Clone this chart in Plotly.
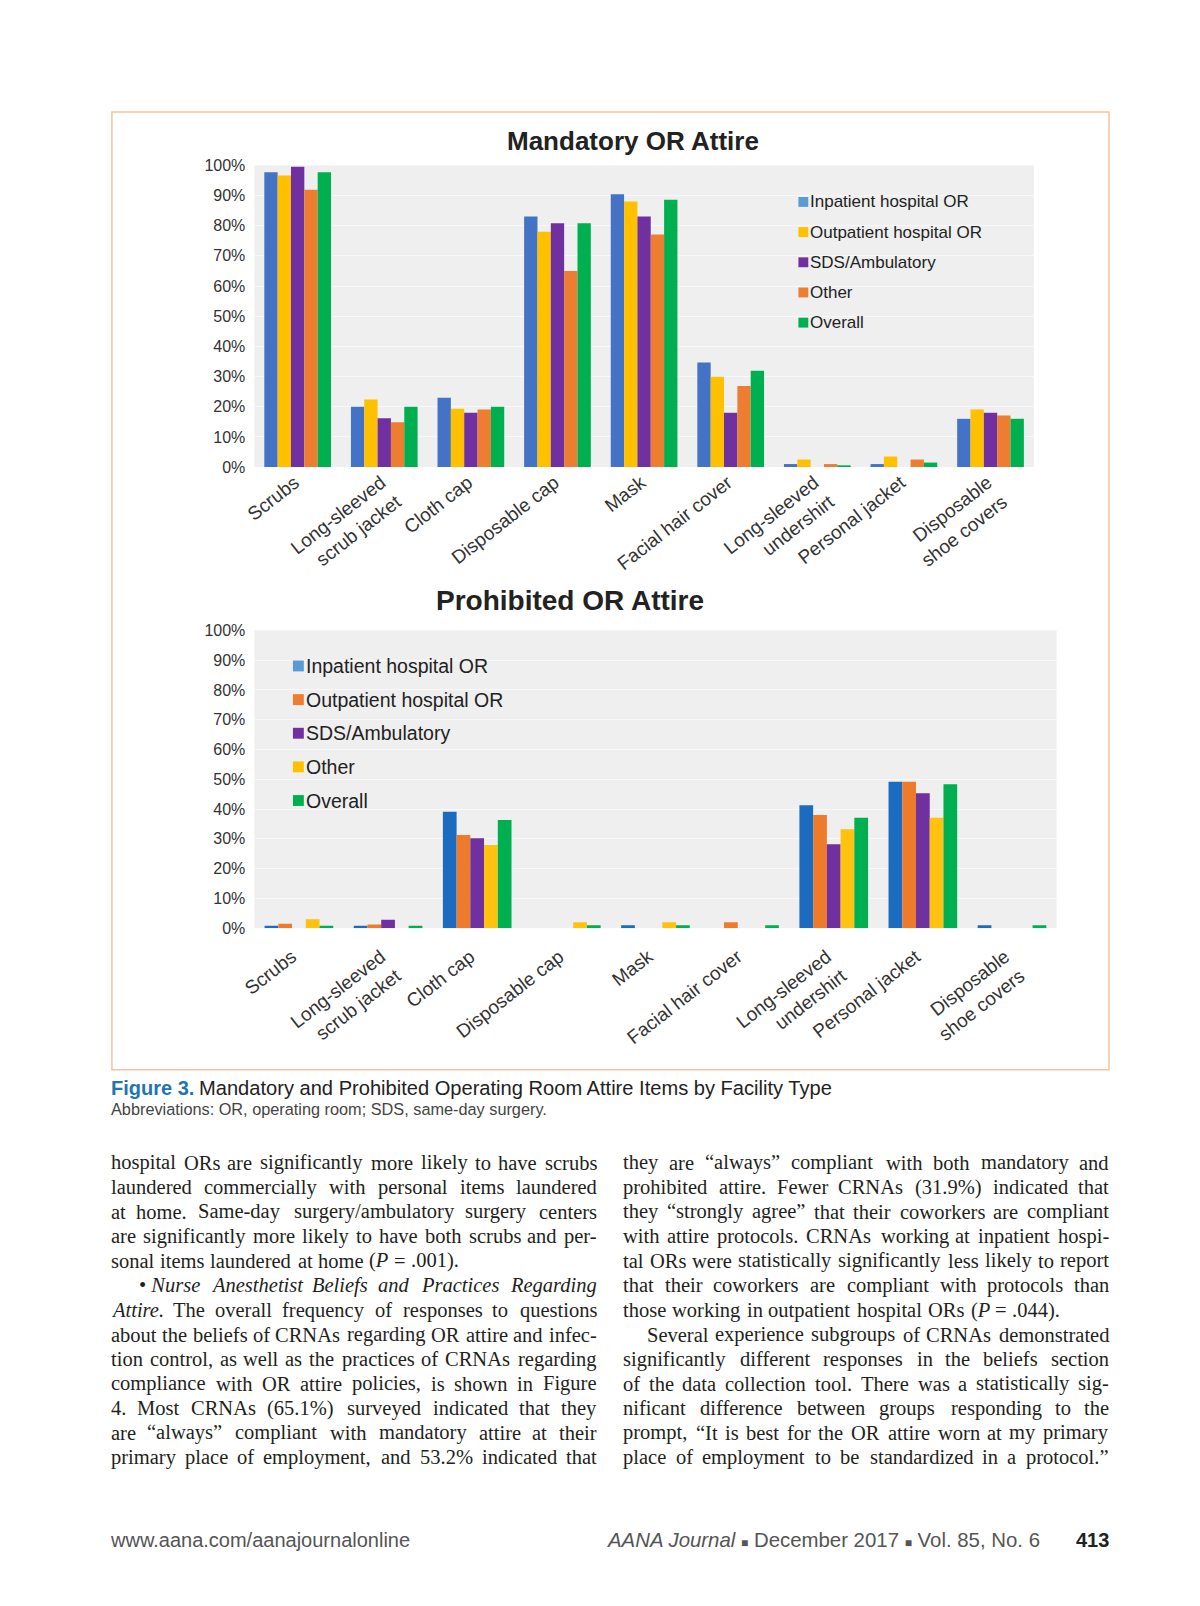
import re
import plotly.graph_objects as go

W_PX, H_PX = 1200, 1606

# ---------------- data ----------------
categories = ["Scrubs", "Long-sleeved<br>scrub jacket", "Cloth cap", "Disposable cap", "Mask",
              "Facial hair cover", "Long-sleeved<br>undershirt", "Personal jacket",
              "Disposable<br>shoe covers"]
series_names = ["Inpatient hospital OR", "Outpatient hospital OR", "SDS/Ambulatory", "Other", "Overall"]

mand_inpatient = [97.7, 20.0, 23.0, 83.0, 90.4, 34.7, 1.0, 1.0, 16.0]
mand_outpatient = [96.6, 22.4, 19.3, 78.0, 88.0, 29.9, 2.5, 3.5, 19.1]
mand_sds = [99.5, 16.2, 18.0, 80.8, 83.0, 18.0, 0.0, 0.0, 18.0]
mand_other = [91.9, 14.9, 19.1, 65.0, 77.1, 26.9, 1.0, 2.5, 17.1]
mand_overall = [97.7, 20.0, 20.0, 80.8, 88.6, 31.9, 0.5, 1.5, 16.0]

proh_inpatient = [0.8, 0.8, 39.1, 0.0, 1.0, 0.0, 41.3, 49.2, 1.0]
proh_outpatient = [1.5, 1.2, 31.3, 0.0, 0.0, 2.0, 38.0, 49.2, 0.0]
proh_sds = [0.0, 2.8, 30.2, 0.0, 0.0, 0.0, 28.2, 45.3, 0.0]
proh_other = [3.0, 0.0, 27.9, 2.0, 2.0, 0.0, 33.2, 37.1, 0.0]
proh_overall = [0.8, 0.8, 36.3, 1.0, 1.0, 1.0, 37.1, 48.3, 1.0]

y_tick_values = [0, 10, 20, 30, 40, 50, 60, 70, 80, 90, 100]
y_tick_labels = ["0%", "10%", "20%", "30%", "40%", "50%", "60%", "70%", "80%", "90%", "100%"]

mand_colors = ["#4472c4", "#ffc000", "#7030a0", "#ed7d31", "#00b050"]
proh_colors = ["#1b6bc0", "#ee7a2c", "#7030a0", "#ffc20e", "#00b050"]
legend_colors_m = ["#5b9bd5", "#ffc000", "#7030a0", "#ed7d31", "#00b050"]
legend_colors_p = ["#5b9bd5", "#ed7d31", "#7030a0", "#ffc000", "#00b050"]

title_mand = "Mandatory OR Attire"
title_proh = "Prohibited OR Attire"

caption_fig = "Figure 3."
caption_text = "Mandatory and Prohibited Operating Room Attire Items by Facility Type"
caption_abbr = "Abbreviations: OR, operating room; SDS, same-day surgery."

col1_lines = [
    ("hospital ORs are significantly more likely to have scrubs", True, 0),
    ("laundered commercially with personal items laundered", True, 0),
    ("at home. Same-day surgery/ambulatory surgery centers", True, 0),
    ("are significantly more likely to have both scrubs and per-", True, 0),
    ("sonal items laundered at home (<i>P</i> = .001).", False, 0),
    ("•\u00a0<i>Nurse</i> <i>Anesthetist</i> <i>Beliefs</i> <i>and</i> <i>Practices</i> <i>Regarding</i>", True, 28),
    ("<i>Attire.</i> The overall frequency of responses to questions", True, 0),
    ("about the beliefs of CRNAs regarding OR attire and infec-", True, 0),
    ("tion control, as well as the practices of CRNAs regarding", True, 0),
    ("compliance with OR attire policies, is shown in Figure", True, 0),
    ("4. Most CRNAs (65.1%) surveyed indicated that they", True, 0),
    ("are “always” compliant with mandatory attire at their", True, 0),
    ("primary place of employment, and 53.2% indicated that", True, 0),
]
col2_lines = [
    ("they are “always” compliant with both mandatory and", True, 0),
    ("prohibited attire. Fewer CRNAs (31.9%) indicated that", True, 0),
    ("they “strongly agree” that their coworkers are compliant", True, 0),
    ("with attire protocols. CRNAs working at inpatient hospi-", True, 0),
    ("tal ORs were statistically significantly less likely to report", True, 0),
    ("that their coworkers are compliant with protocols than", True, 0),
    ("those working in outpatient hospital ORs (<i>P</i> = .044).", False, 0),
    ("Several experience subgroups of CRNAs demonstrated", True, 24),
    ("significantly different responses in the beliefs section", True, 0),
    ("of the data collection tool. There was a statistically sig-", True, 0),
    ("nificant difference between groups responding to the", True, 0),
    ("prompt, “It is best for the OR attire worn at my primary", True, 0),
    ("place of employment to be standardized in a protocol.”", True, 0),
]

footer_left = "www.aana.com/aanajournalonline"
footer_right = ("<i>AANA Journal</i> <span style='font-size:12px'>■</span> December 2017 "
                "<span style='font-size:12px'>■</span> Vol. 85, No. 6")
footer_page = "413"

# ---------------- helpers ----------------
def PX(x):
    return x / W_PX


def PY(y):
    return 1 - y / H_PX


ROMAN = {' ': 250, '\u00a0': 250, '!': 333, '%': 833, '(': 333, ')': 333, ',': 250, '-': 333, '.': 250,
         '/': 278, ':': 278, ';': 278, '=': 564, '?': 444, '“': 444, '”': 444, '•': 350, "'": 333,
         'A': 722, 'B': 667, 'C': 667, 'D': 722, 'E': 611, 'F': 556, 'G': 722, 'H': 722, 'I': 333,
         'J': 389, 'K': 722, 'L': 611, 'M': 889, 'N': 722, 'O': 722, 'P': 556, 'Q': 722, 'R': 667,
         'S': 556, 'T': 611, 'U': 722, 'V': 722, 'W': 944, 'X': 722, 'Y': 722, 'Z': 611,
         'a': 444, 'b': 500, 'c': 444, 'd': 500, 'e': 444, 'f': 333, 'g': 500, 'h': 500, 'i': 278,
         'j': 278, 'k': 500, 'l': 278, 'm': 778, 'n': 500, 'o': 500, 'p': 500, 'q': 500, 'r': 333,
         's': 389, 't': 278, 'u': 500, 'v': 500, 'w': 722, 'x': 500, 'y': 500, 'z': 444}
ITALIC = dict(ROMAN)
ITALIC.update({'A': 611, 'B': 611, 'N': 667, 'P': 611, 'R': 611, 'S': 500, 'T': 556,
               'a': 500, 'f': 278, 'k': 444, 'm': 722, 'r': 389, 'v': 444, 'w': 667, 'y': 444, 'z': 389})
WIDTH_SAFETY = 1.03


def word_width(word, size):
    total = 0
    italic = False
    for tok in re.split(r"(<[^>]+>)", word):
        if tok == "<i>":
            italic = True
        elif tok == "</i>":
            italic = False
        elif tok.startswith("<"):
            continue
        else:
            table = ITALIC if italic else ROMAN
            total += sum(table.get(c, 500) for c in tok)
    return total * size / 1000.0 * WIDTH_SAFETY


# ---------------- figure ----------------
fig = go.Figure()

for name, vals, col in zip(series_names,
                           [mand_inpatient, mand_outpatient, mand_sds, mand_other, mand_overall],
                           mand_colors):
    fig.add_trace(go.Bar(x=categories, y=vals, name=name, marker_color=col, marker_line_width=0,
                         xaxis="x", yaxis="y", showlegend=False, hoverinfo="skip"))

for name, vals, col in zip(series_names,
                           [proh_inpatient, proh_outpatient, proh_sds, proh_other, proh_overall],
                           proh_colors):
    fig.add_trace(go.Bar(x=categories, y=vals, name=name, marker_color=col, marker_line_width=0,
                         xaxis="x2", yaxis="y2", showlegend=False, hoverinfo="skip"))

SANS = "Liberation Sans, Arial, sans-serif"
axis_font = dict(family=SANS, size=16, color="#333333")
cat_font = dict(family=SANS, size=19, color="#333333")

common_x = dict(type="category", showgrid=False, showline=False, zeroline=False, ticks="",
                tickangle=-38, tickfont=cat_font)
common_y = dict(range=[0, 100], tickvals=y_tick_values, ticktext=y_tick_labels, showline=False,
                zeroline=False, ticks="", showgrid=True, gridcolor="#f8f8f8", gridwidth=1,
                tickfont=axis_font, ticklabelstandoff=8)

fig.update_layout(
    width=W_PX, height=H_PX, autosize=False,
    margin=dict(l=0, r=0, t=0, b=0, pad=0),
    paper_bgcolor="white", plot_bgcolor="#efefef",
    barmode="group", bargap=0.23, bargroupgap=0.0,
    showlegend=False,
    xaxis=dict(domain=[PX(244), PX(1032)], anchor="y", ticklabelshift=-3, **common_x),
    yaxis=dict(domain=[PY(464), PY(159)], anchor="x", **common_y),
    xaxis2=dict(domain=[PX(244), PX(1055)], anchor="y2", ticklabelstandoff=13, ticklabelshift=-7,
                **common_x),
    yaxis2=dict(domain=[PY(930), PY(629)], anchor="x2", **common_y),
)

shapes = []
annotations = []

# outer frame
shapes.append(dict(type="rect", xref="paper", yref="paper", x0=PX(100), x1=PX(1108),
                   y0=PY(1073), y1=PY(105), line=dict(color="#f3c3a2", width=1.5), layer="below"))

# titles
annotations.append(dict(text="<b>" + title_mand + "</b>", x=PX(627), y=PY(134), xref="paper", yref="paper",
                        xanchor="center", yanchor="middle", showarrow=False,
                        font=dict(family=SANS, size=26, color="#222222")))
annotations.append(dict(text="<b>" + title_proh + "</b>", x=PX(563), y=PY(599), xref="paper", yref="paper",
                        xanchor="center", yanchor="middle", showarrow=False,
                        font=dict(family=SANS, size=28, color="#222222")))


# legends (drawn from the series names)
def add_legend(x_sq, size, y0, dy, colors, font_size):
    for i, (name, col) in enumerate(zip(series_names, colors)):
        yy = y0 + i * dy
        shapes.append(dict(type="rect", xref="paper", yref="paper", x0=PX(x_sq), x1=PX(x_sq + size),
                           y0=PY(yy + size / 2), y1=PY(yy - size / 2), fillcolor=col, line=dict(width=0)))
        annotations.append(dict(text=name, x=PX(x_sq + size), y=PY(yy), xref="paper", yref="paper",
                                xanchor="left", yanchor="middle", showarrow=False,
                                font=dict(family=SANS, size=font_size, color="#222222")))


add_legend(794, 10, 196, 30.5, legend_colors_m, 17)
add_legend(283, 11, 665, 34, legend_colors_p, 19.5)

# caption
annotations.append(dict(text="<b>" + caption_fig + "</b>", x=PX(97), y=PY(1092), xref="paper", yref="paper",
                        xanchor="left", yanchor="middle", showarrow=False,
                        font=dict(family=SANS, size=20, color="#1f74b4")))
annotations.append(dict(text=caption_text, x=PX(186), y=PY(1092), xref="paper", yref="paper",
                        xanchor="left", yanchor="middle", showarrow=False,
                        font=dict(family=SANS, size=20.1, color="#222222")))
annotations.append(dict(text=caption_abbr, x=PX(97), y=PY(1113), xref="paper", yref="paper",
                        xanchor="left", yanchor="middle", showarrow=False,
                        font=dict(family=SANS, size=16.3, color="#444444")))

# body text (justified columns)
BODY_SIZE = 20.5
LINE_Y0 = 1167
LINE_DY = 24.83
body_font = dict(family="Liberation Serif, Times New Roman, serif", size=BODY_SIZE, color="#231f20")


def add_word(text, x, yy, anchor):
    annotations.append(dict(text=text, x=PX(x), y=PY(yy), xref="paper", yref="paper",
                            xanchor=anchor, yanchor="middle", showarrow=False,
                            borderpad=0, borderwidth=0, font=body_font))


def add_column(lines, left, right):
    space = ROMAN[' '] * BODY_SIZE / 1000.0
    for i, (line, justify, indent) in enumerate(lines):
        yy = LINE_Y0 + i * LINE_DY
        words = line.split(" ")
        widths = [word_width(w, BODY_SIZE) for w in words]
        x0 = left + indent
        n = len(words)
        if justify and n > 1:
            gap = (right - x0 - sum(widths)) / (n - 1)
            half = (n + 1) // 2
            x = x0
            for k in range(half):
                add_word(words[k], x, yy, "left")
                x += widths[k] + gap
            xr = right
            for k in range(n - 1, half - 1, -1):
                add_word(words[k], xr, yy, "right")
                xr -= widths[k] + gap
        else:
            x = x0
            for w, wd in zip(words, widths):
                add_word(w, x, yy, "left")
                x += wd + space


add_column(col1_lines, 99, 590)
add_column(col2_lines, 617, 1108)

# footer
foot_font = dict(family=SANS, size=20, color="#555555")
annotations.append(dict(text=footer_left, x=PX(96), y=PY(1548), xref="paper", yref="paper",
                        xanchor="left", yanchor="middle", showarrow=False, font=foot_font))
annotations.append(dict(text=footer_right, x=PX(1040), y=PY(1548), xref="paper", yref="paper",
                        xanchor="right", yanchor="middle",
                        showarrow=False, font=dict(family=SANS, size=20.4, color="#555555")))
annotations.append(dict(text="<b>" + footer_page + "</b>", x=PX(1110), y=PY(1548), xref="paper", yref="paper",
                        xanchor="right", yanchor="middle", showarrow=False,
                        font=dict(family=SANS, size=20, color="#222222")))

fig.update_layout(shapes=shapes, annotations=annotations)

fig.write_html("out.html", config={"displayModeBar": False},
               post_script="document.body.style.margin='0';document.body.style.padding='0';")
